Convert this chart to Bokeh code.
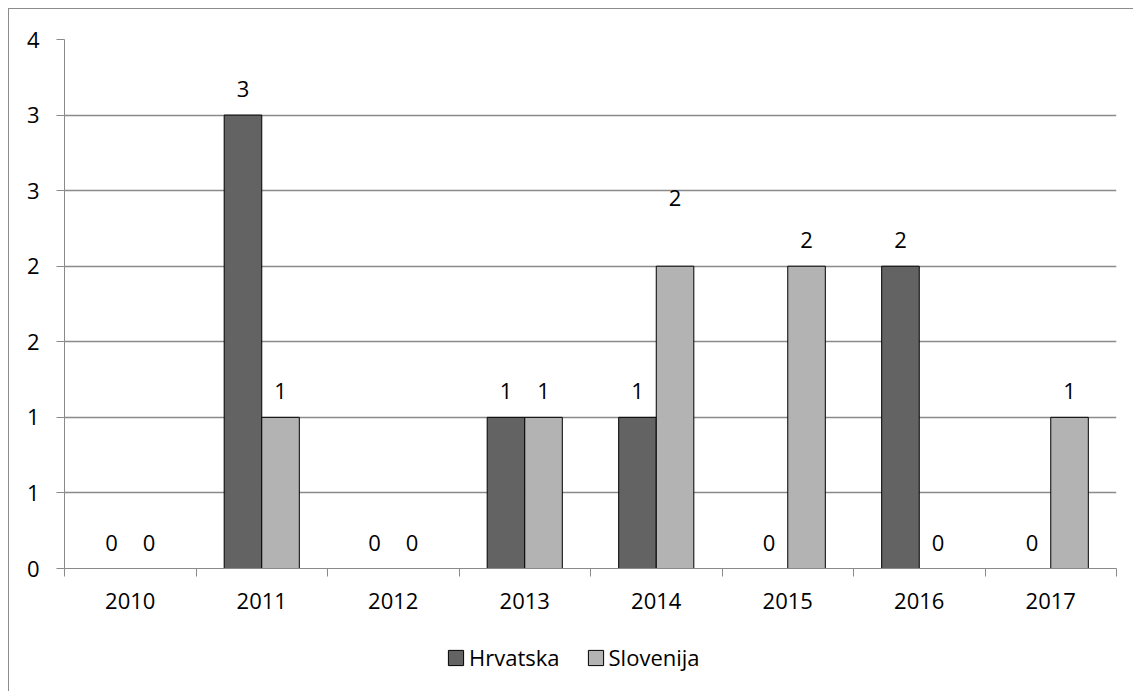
from bokeh.plotting import figure
from bokeh.layouts import column
from bokeh.models import (ColumnDataSource, Range1d, FixedTicker, LabelSet, Legend, LegendItem)
from bokeh.core.properties import value
from bokeh.transform import dodge
from bokeh.embed import file_html
from bokeh.resources import INLINE

years = ["2010", "2011", "2012", "2013", "2014", "2015", "2016", "2017"]
hrvatska = [0, 3, 0, 1, 1, 0, 2, 0]
slovenija = [0, 1, 0, 1, 2, 2, 0, 1]
ytick_values = [0, 0.5, 1, 1.5, 2, 2.5, 3, 3.5]
ytick_labels = ["0", "1", "1", "2", "2", "3", "3", "4"]

FONT = "Open Sans"
FS = "22px"
GRID = "#8a8a8a"
C_HR = "#636363"
C_SL = "#b3b3b3"

n = len(years)
xi = [i + 0.5 for i in range(n)]
bw = 1 / 3.5  # Excel gap width 150%

# label lift (screen px) - the 2014 Slovenija label sits higher in the original
lift_hr = [26] * n
lift_sl = [26] * n
lift_sl[4] = 68

src = ColumnDataSource(dict(x=xi, hr=hrvatska, sl=slovenija,
                            hr_t=[str(v) for v in hrvatska], sl_t=[str(v) for v in slovenija],
                            lift_hr=lift_hr, lift_sl=lift_sl))

p = figure(frame_width=1052, frame_height=529, output_backend="svg", toolbar_location=None,
           x_range=Range1d(0, n), y_range=Range1d(0, 3.5),
           min_border_left=55, min_border_right=18, min_border_top=30, min_border_bottom=56,
           background_fill_color="white", border_fill_color="white", outline_line_color=None)

r_hr = p.vbar(x=dodge("x", -bw / 2, range=p.x_range), top="hr", width=bw, source=src,
              fill_color=C_HR, line_color="black", line_width=1)
r_sl = p.vbar(x=dodge("x", bw / 2, range=p.x_range), top="sl", width=bw, source=src,
              fill_color=C_SL, line_color="black", line_width=1)

for col, off, lift in (("hr_t", -bw / 2, "lift_hr"), ("sl_t", bw / 2, "lift_sl")):
    ycol = "hr" if col == "hr_t" else "sl"
    p.add_layout(LabelSet(x=dodge("x", off, range=p.x_range), y=ycol, text=col, source=src,
                          y_offset=lift, text_align="center", text_baseline="middle",
                          text_font=value(FONT), text_font_size=value(FS),
                          text_color="black"))

# x axis: labels at centres, ticks at category boundaries
xa = p.xaxis[0]
xa.ticker = FixedTicker(ticks=xi, minor_ticks=list(range(n + 1)))
xa.major_label_overrides = {x: y for x, y in zip(xi, years)}
xa.major_tick_out = 0
xa.major_tick_in = 0
xa.minor_tick_out = 8
xa.minor_tick_in = 0
xa.minor_tick_line_color = GRID
xa.axis_line_color = GRID
xa.major_label_standoff = 16
xa.major_label_text_font = FONT
xa.major_label_text_font_size = FS
xa.major_label_text_color = "black"

ya = p.yaxis[0]
ya.ticker = FixedTicker(ticks=ytick_values)
ya.major_label_overrides = {x: y for x, y in zip(ytick_values, ytick_labels)}
ya.major_tick_out = 8
ya.major_tick_in = 0
ya.major_tick_line_color = GRID
ya.minor_tick_line_color = None
ya.axis_line_color = GRID
ya.major_label_standoff = 17
ya.major_label_text_font = FONT
ya.major_label_text_font_size = FS
ya.major_label_text_color = "black"

p.xgrid.grid_line_color = None
p.ygrid.ticker = FixedTicker(ticks=ytick_values + [3.5])
p.ygrid.grid_line_color = GRID
p.ygrid.grid_line_width = 1.5

# legend strip below the chart (series renderers fall outside its ranges)
p2 = figure(width=1125, height=68, output_backend="svg", toolbar_location=None,
            x_range=Range1d(0, n), y_range=Range1d(100, 101),
            x_axis_type=None, y_axis_type=None,
            min_border_left=0, min_border_right=0, min_border_top=0, min_border_bottom=0,
            background_fill_color="white", border_fill_color="white", outline_line_color=None)
p2.xgrid.grid_line_color = None
p2.ygrid.grid_line_color = None
l_hr = p2.vbar(x="x", top="hr", width=bw, source=src,
               fill_color=C_HR, line_color="black", line_width=1)
l_sl = p2.vbar(x="x", top="sl", width=bw, source=src,
               fill_color=C_SL, line_color="black", line_width=1)

legend = Legend(items=[LegendItem(label="Hrvatska", renderers=[l_hr]),
                       LegendItem(label="Slovenija", renderers=[l_sl])],
                location=(382, 20), orientation="horizontal",
                label_text_font=FONT, label_text_font_size=FS, label_text_color="black",
                glyph_width=19, glyph_height=19, label_standoff=4, spacing=26,
                padding=0, margin=0, border_line_color=None, background_fill_alpha=0)
p2.add_layout(legend, "center")

layout = column(p, p2, spacing=0)
layout.styles = {"margin-left": "8px", "margin-top": "8px",
                 "border-left": "1px solid #8c8c8c", "border-top": "1px solid #8c8c8c"}

open("out.html", "w").write(file_html(layout, INLINE))
